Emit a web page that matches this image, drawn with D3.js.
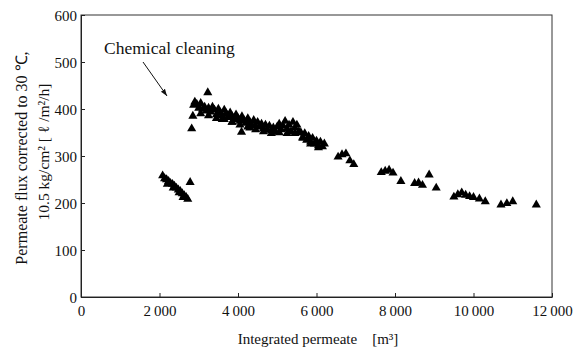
<!DOCTYPE html>
<html>
<head>
<meta charset="utf-8">
<script src="https://cdn.jsdelivr.net/npm/d3@7"></script>
<style>
  body { margin: 0; background: #fff; }
  svg text { font-family: "Liberation Serif", serif; fill: #111; }
</style>
</head>
<body>
<svg id="chart" width="577" height="349"></svg>
<script>
"use strict";

// integrated permeate [m3] and flux [l/m2/h]
const beforeX = [2080, 2130, 2180, 2200, 2230, 2280, 2330, 2350, 2380, 2430, 2480, 2500, 2530, 2580, 2600, 2630, 2680, 2720, 2780];
const beforeY = [258, 252, 250, 240, 246, 242, 240, 232, 236, 232, 228, 222, 225, 220, 212, 216, 212, 208, 244];

const afterX = [2820, 2850, 2870, 2900, 3230,
  2950, 3000, 3050, 3100, 3150, 3200, 3250, 3300, 3350, 3400, 3450, 3500, 3550, 3600, 3650,
  3700, 3750, 3800, 3850, 3900, 3950, 4000, 4050, 4100, 4150, 4200, 4250, 4300, 4350, 4400,
  4450, 4500, 4550, 4600, 4650, 4700, 4750, 4800, 4850, 4900, 4950, 5000, 5050, 5100, 5150,
  5200, 5250, 5300, 5350, 5400, 5450, 5500, 5550, 5600, 5650, 5700, 5750, 5800, 5850, 5900,
  5950, 6000, 6050, 6100, 6150, 6200, 4090, 4300, 3850, 3600,
  3050, 3250, 3450, 3650, 3850, 4050, 4250, 4450, 4650, 4850, 5050, 5250, 5450, 5650, 5850, 6050,
  6550, 6650, 6750, 6850, 6950,
  7650, 7750, 7850, 7950, 8150, 8500, 8600, 8700, 8870, 9050,
  9500, 9600, 9700, 9800, 9900, 10000, 10150, 10300, 10700, 10850, 11000, 11600];
const afterY = [358, 385, 408, 415, 435,
  410, 402, 412, 400, 404, 396, 402, 394, 404, 398, 388, 400, 392, 386, 398,
  390, 382, 392, 384, 378, 388, 380, 374, 384, 376, 370, 380, 372, 366, 376,
  364, 372, 362, 368, 358, 366, 356, 364, 354, 360, 352, 362, 368, 356, 364,
  374, 358, 366, 352, 372, 360, 366, 352, 350, 340, 348, 334, 342, 330, 338,
  326, 332, 322, 330, 320, 326, 351, 360, 372, 378,
  390, 386, 380, 378, 372, 366, 362, 356, 352, 348, 350, 348, 348, 338, 326, 318,
  298, 303, 305, 290, 282,
  265, 268, 270, 264, 246, 242, 243, 238, 260, 232,
  213, 218, 222, 217, 214, 212, 209, 203, 196, 199, 203, 196];

const xTicks = [0, 2000, 4000, 6000, 8000, 10000, 12000];
const yTicks = [0, 100, 200, 300, 400, 500, 600];

const svg = d3.select("#chart");
const margin = { left: 81, top: 15, right: 25, bottom: 52 };
const W = 577, H = 349;

const x = d3.scaleLinear().domain([0, 12000]).range([margin.left, W - margin.right]);
const y = d3.scaleLinear().domain([0, 600]).range([H - margin.bottom, margin.top]);

const fmt = v => v >= 1000 ? Math.floor(v / 1000) + "\u2009" + String(v % 1000).padStart(3, "0") : String(v);

// frame
svg.append("rect")
  .attr("x", x(0)).attr("y", y(600))
  .attr("width", x(12000) - x(0)).attr("height", y(0) - y(600))
  .attr("fill", "none").attr("stroke", "#333").attr("stroke-width", 1);

// axes, ticks pointing inward
const xAxis = svg.append("g")
  .attr("transform", `translate(0,${y(0)})`)
  .call(d3.axisBottom(x).tickValues(xTicks).tickSizeInner(-4).tickSizeOuter(0).tickPadding(8).tickFormat(fmt));
const yAxis = svg.append("g")
  .attr("transform", `translate(${x(0)},0)`)
  .call(d3.axisLeft(y).tickValues(yTicks).tickSizeInner(-4).tickSizeOuter(0).tickPadding(4).tickFormat(fmt));

[xAxis, yAxis].forEach(g => {
  g.attr("font-family", null);
  g.select(".domain").attr("stroke", "#222");
  g.selectAll(".tick line").attr("stroke", "#222");
  g.selectAll(".tick text").style("font-size", "15px").attr("fill", "#111");
});
yAxis.selectAll(".tick text").attr("dy", "0.36em");

// markers
const tri = d3.symbol().type(d3.symbolTriangle).size(36);
const pts = beforeX.map((v, i) => [v, beforeY[i]]).concat(afterX.map((v, i) => [v, afterY[i]]));
svg.append("g").selectAll("path")
  .data(pts)
  .enter()
  .append("path")
  .attr("d", tri)
  .attr("transform", d => `translate(${x(d[0])},${y(d[1])})`)
  .attr("fill", "#000");

// annotation
svg.append("defs").append("marker")
  .attr("id", "arrow").attr("viewBox", "0 0 10 10")
  .attr("refX", 10).attr("refY", 5)
  .attr("markerWidth", 7).attr("markerHeight", 7)
  .attr("orient", "auto")
  .append("path").attr("d", "M0,1.5 L10,5 L0,8.5 Z").attr("fill", "#111");

svg.append("text")
  .attr("x", 104).attr("y", 54)
  .style("font-size", "17.5px")
  .text("Chemical cleaning");

svg.append("line")
  .attr("x1", 143).attr("y1", 62).attr("x2", 167).attr("y2", 96)
  .attr("stroke", "#111").attr("stroke-width", 1)
  .attr("marker-end", "url(#arrow)");

// axis titles
svg.append("text")
  .attr("x", 318).attr("y", 344)
  .attr("text-anchor", "middle")
  .style("font-size", "15px")
  .attr("xml:space", "preserve")
  .text("Integrated permeate    [m³]");

const yl = svg.append("g").attr("transform", "translate(27,158) rotate(-90)");
yl.append("text")
  .attr("text-anchor", "middle")
  .style("font-size", "16px")
  .text("Permeate flux corrected to 30 ℃,");
yl.append("text")
  .attr("x", 6).attr("y", 22)
  .attr("text-anchor", "middle")
  .style("font-size", "15.5px")
  .text("10.5 kg/cm²  [ ℓ /m²/h]");
</script>
</body>
</html>
